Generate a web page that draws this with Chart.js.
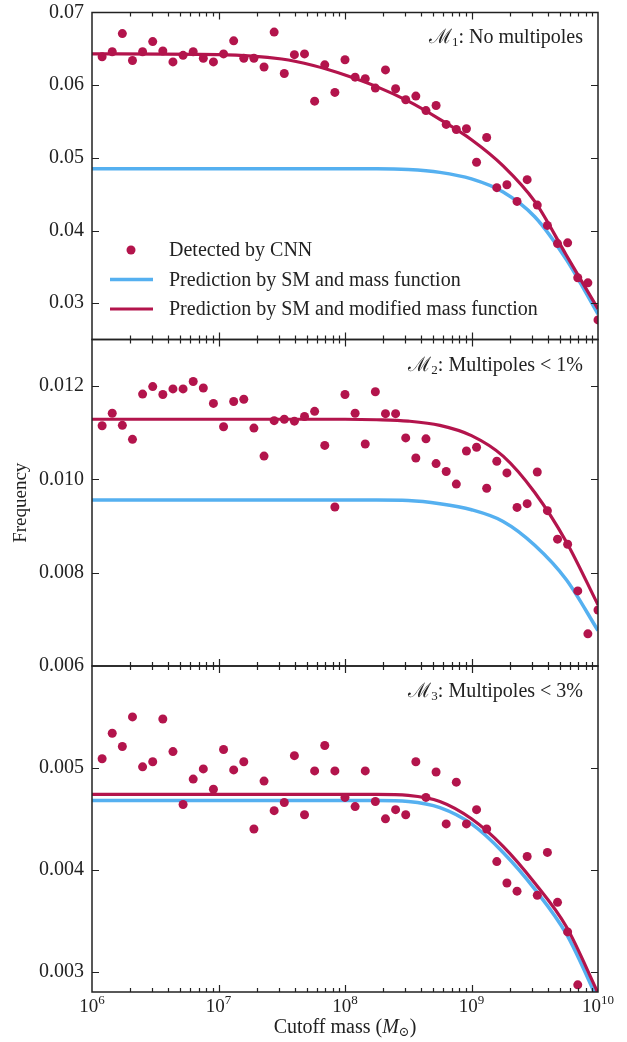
<!DOCTYPE html>
<html>
<head>
<meta charset="utf-8">
<script src="https://cdn.jsdelivr.net/npm/chart.js@4.4.0/dist/chart.umd.min.js"></script>
<style>
  html, body { margin: 0; padding: 0; background: #fff; }
  #wrap { position: relative; width: 627px; height: 1042px; overflow: hidden; }
  #wrap canvas { position: absolute; left: 0; }
</style>
</head>
<body>
<div id="wrap">
  <canvas id="p1" width="627" height="370" style="top:0px"></canvas>
  <canvas id="p2" width="627" height="386" style="top:310px"></canvas>
  <canvas id="p3" width="627" height="406" style="top:636px"></canvas>
</div>
<script>
// log10 of cutoff mass for the CNN points
const logMass = [
  6.08, 6.16, 6.24, 6.32, 6.40, 6.48, 6.56, 6.64, 6.72, 6.80,
  6.88, 6.96, 7.04, 7.12, 7.20, 7.28, 7.36, 7.44, 7.52, 7.60,
  7.68, 7.76, 7.84, 7.92, 8.00, 8.08, 8.16, 8.24, 8.32, 8.40,
  8.48, 8.56, 8.64, 8.72, 8.80, 8.88, 8.96, 9.04, 9.12, 9.20,
  9.28, 9.36, 9.44, 9.52, 9.60, 9.68, 9.76, 9.84, 9.92, 10.00
];
const detected1 = [
  0.0639, 0.0646, 0.0671, 0.0634, 0.0646, 0.0660, 0.0647, 0.0632, 0.0641, 0.0646,
  0.0637, 0.0632, 0.0643, 0.0661, 0.0637, 0.0637, 0.0625, 0.0673, 0.0616, 0.0642,
  0.0643, 0.0578, 0.0628, 0.0590, 0.0635, 0.0611, 0.0609, 0.0596, 0.0621, 0.0595,
  0.0580, 0.0585, 0.0565, 0.0572, 0.0546, 0.0539, 0.0540, 0.0494, 0.0528, 0.0459,
  0.0463, 0.0440, 0.0470, 0.0435, 0.0407, 0.0382, 0.0383, 0.0335, 0.0328, 0.0277
];
const detected2 = [
  0.01115, 0.01142, 0.01116, 0.01086, 0.01183, 0.01199, 0.01182, 0.01194, 0.01194, 0.01210,
  0.01196, 0.01163, 0.01113, 0.01167, 0.01172, 0.01110, 0.01050, 0.01126, 0.01129, 0.01125,
  0.01135, 0.01146, 0.01073, 0.00941, 0.01182, 0.01142, 0.01076, 0.01188, 0.01141, 0.01141,
  0.01089, 0.01046, 0.01087, 0.01034, 0.01017, 0.00990, 0.01061, 0.01069, 0.00981, 0.01039,
  0.01014, 0.00940, 0.00948, 0.01016, 0.00933, 0.00872, 0.00861, 0.00761, 0.00669, 0.00720
];
const detected3 = [
  0.00509, 0.00534, 0.00521, 0.00550, 0.00501, 0.00506, 0.00548, 0.00516, 0.00464, 0.00489,
  0.00499, 0.00479, 0.00518, 0.00498, 0.00506, 0.00440, 0.00487, 0.00458, 0.00466, 0.00512,
  0.00454, 0.00497, 0.00522, 0.00497, 0.00471, 0.00462, 0.00497, 0.00467, 0.00450, 0.00459,
  0.00454, 0.00506, 0.00471, 0.00496, 0.00445, 0.00486, 0.00445, 0.00459, 0.00440, 0.00408,
  0.00387, 0.00379, 0.00413, 0.00375, 0.00417, 0.00368, 0.00339, 0.00287, null, null
];

// prediction curves, sampled in log10 mass
const curveLogMass = [6, 7, 7.5, 7.75, 8, 8.25, 8.5, 8.75, 9, 9.25, 9.5, 9.75, 10];
const massFn1 =    [0.0485, 0.0485, 0.0485, 0.0485, 0.0485, 0.0485, 0.0484, 0.0480, 0.0471, 0.0453, 0.0419, 0.0360, 0.0285];
const modMassFn1 = [0.0643, 0.0642, 0.0636, 0.0627, 0.0614, 0.0598, 0.0578, 0.0553, 0.0525, 0.0489, 0.0440, 0.0366, 0.0292];
const massFn2 =    [0.00956, 0.00956, 0.00956, 0.00956, 0.00956, 0.00956, 0.00955, 0.00948, 0.00935, 0.00910, 0.00859, 0.00785, 0.00676];
const modMassFn2 = [0.01129, 0.01129, 0.01129, 0.01129, 0.01129, 0.01128, 0.01125, 0.01116, 0.01094, 0.01050, 0.00972, 0.00866, 0.00731];
const massFn3 =    [0.00468, 0.00468, 0.00468, 0.00468, 0.00468, 0.00468, 0.00467, 0.00461, 0.00445, 0.00417, 0.00381, 0.00337, 0.00272];
const modMassFn3 = [0.00474, 0.00474, 0.00474, 0.00474, 0.00474, 0.00474, 0.00473, 0.00467, 0.00450, 0.00423, 0.00387, 0.00344, 0.00279];

const xTicks = [1e6, 1e7, 1e8, 1e9, 1e10];
const xTickExponents = ['6', '7', '8', '9', '10'];
const yTicks1 = [0.03, 0.04, 0.05, 0.06, 0.07];
const yTicks2 = [0.006, 0.008, 0.010, 0.012];
const yTicks3 = [0.003, 0.004, 0.005];

const labels = ['Detected by CNN', 'Prediction by SM and mass function', 'Prediction by SM and modified mass function'];
const tags = [['1', ': No multipoles'], ['2', ': Multipoles < 1%'], ['3', ': Multipoles < 3%']];

const RED = '#b3144c', BLUE = '#55b0f0', INK = '#222';
const SERIF = '"Liberation Serif", "Times New Roman", "DejaVu Serif", serif';

const pts = (xs, ys) => xs.map((l, i) => ({ x: Math.pow(10, l), y: ys[i] }));

function drawFrame(chart) {
  const { ctx, chartArea: a, scales: { x, y } } = chart;
  ctx.save();
  ctx.strokeStyle = INK;
  ctx.lineWidth = 1.2;
  ctx.beginPath();
  for (let n = 6; n < 10; n++) {
    for (let m = 1; m < 10; m++) {
      if (n === 6 && m === 1) continue;
      const px = Math.round(x.getPixelForValue(m * Math.pow(10, n))) + 0.5;
      const len = m === 1 ? 7 : 4;
      ctx.moveTo(px, a.bottom); ctx.lineTo(px, a.bottom - len);
      ctx.moveTo(px, a.top); ctx.lineTo(px, a.top + len);
    }
  }
  y.ticks.forEach(t => {
    const py = Math.round(y.getPixelForValue(t.value)) + 0.5;
    if (py < a.top + 2 || py > a.bottom - 2) return;
    ctx.moveTo(a.left, py); ctx.lineTo(a.left + 7, py);
    ctx.moveTo(a.right, py); ctx.lineTo(a.right - 7, py);
  });
  ctx.stroke();
  ctx.lineWidth = 1.5;
  ctx.strokeRect(a.left, a.top, a.right - a.left, a.bottom - a.top);
  ctx.restore();
}

function drawTag(ctx, right, cy, tag) {
  ctx.save();
  ctx.fillStyle = INK;
  ctx.textBaseline = 'middle';
  const big = '20px ' + SERIF, small = '13px ' + SERIF;
  ctx.font = big; const wM = ctx.measureText('ℳ').width; const wRest = ctx.measureText(tag[1]).width;
  ctx.font = small; const wSub = ctx.measureText(tag[0]).width;
  let x0 = right - wM - wSub - wRest;
  ctx.font = big; ctx.fillText('ℳ', x0, cy);
  ctx.font = small; ctx.fillText(tag[0], x0 + wM, cy + 5);
  ctx.font = big; ctx.fillText(tag[1], x0 + wM + wSub, cy);
  ctx.restore();
}

function drawLegend(chart) {
  const { ctx } = chart;
  const ds = chart.data.datasets;
  const rows = [250, 279.5, 309];
  ctx.save();
  ctx.font = '20px ' + SERIF;
  ctx.textBaseline = 'middle';
  ds.forEach((d, i) => {
    const cy = rows[i];
    if (d.showLine === false) {
      ctx.fillStyle = d.pointBackgroundColor;
      ctx.beginPath(); ctx.arc(131, cy, 4.5, 0, Math.PI * 2); ctx.fill();
    } else {
      ctx.strokeStyle = d.borderColor; ctx.lineWidth = d.borderWidth;
      ctx.beginPath(); ctx.moveTo(110, cy); ctx.lineTo(153, cy); ctx.stroke();
    }
    ctx.fillStyle = INK;
    ctx.fillText(d.label, 169, cy + 1);
  });
  ctx.restore();
}

function drawXLabels(chart) {
  const { ctx, scales: { x }, chartArea: a } = chart;
  const base = '19px ' + SERIF, sup = '13px ' + SERIF;
  ctx.save();
  ctx.fillStyle = INK;
  ctx.textBaseline = 'alphabetic';
  xTicks.forEach((v, i) => {
    ctx.font = base; const wb = ctx.measureText('10').width;
    ctx.font = sup; const we = ctx.measureText(xTickExponents[i]).width;
    const x0 = x.getPixelForValue(v) - (wb + we) / 2;
    ctx.font = base; ctx.fillText('10', x0, a.bottom + 20);
    ctx.font = sup; ctx.fillText(xTickExponents[i], x0 + wb, a.bottom + 12);
  });
  // axis title
  const cy = a.bottom + 36;
  const big = '20px ' + SERIF, ital = 'italic 20px ' + SERIF, small = '13px "DejaVu Serif", serif';
  ctx.textBaseline = 'middle';
  const parts = [['Cutoff mass (', big, 0], ['M', ital, 0], ['⊙', small, 5], [')', big, 0]];
  const widths = parts.map(p => { ctx.font = p[1]; return ctx.measureText(p[0]).width; });
  let x1 = (a.left + a.right) / 2 - widths.reduce((s, w) => s + w, 0) / 2;
  parts.forEach((p, i) => { ctx.font = p[1]; ctx.fillText(p[0], x1, cy + p[2]); x1 += widths[i]; });
  ctx.restore();
}

function makePanel(id, p) {
  const decoPlugin = {
    id: 'deco' + id,
    afterDraw(chart) {
      drawFrame(chart);
      drawTag(chart.ctx, 583, chart.chartArea.top + p.tagDy, p.tag);
      if (p.legend) drawLegend(chart);
      if (p.showX) drawXLabels(chart);
    }
  };
  return new Chart(document.getElementById(id).getContext('2d'), {
    type: 'line',
    data: {
      datasets: [
        { label: labels[0], data: pts(logMass, p.detected), showLine: false, order: 0,
          pointRadius: 4.5, pointBackgroundColor: RED, pointBorderWidth: 0, borderColor: RED },
        { label: labels[1], data: pts(curveLogMass, p.massFn), order: 2, pointRadius: 0,
          borderColor: BLUE, borderWidth: 3.5, cubicInterpolationMode: 'monotone' },
        { label: labels[2], data: pts(curveLogMass, p.modMassFn), order: 1, pointRadius: 0,
          borderColor: RED, borderWidth: 3.2, cubicInterpolationMode: 'monotone' }
      ]
    },
    options: {
      responsive: false, animation: false, devicePixelRatio: 1,
      layout: { padding: { left: 0, right: 29, top: p.padTop, bottom: p.padBottom } },
      plugins: { legend: { display: false }, tooltip: { enabled: false } },
      scales: {
        x: {
          type: 'logarithmic', min: 1e6, max: 1e10, display: p.showX,
          grid: { display: false, drawTicks: false }, border: { display: false },
          afterBuildTicks: s => { s.ticks = xTicks.map(v => ({ value: v })); },
          afterFit: s => { s.height = p.showX ? 50 : 0; s.paddingLeft = 0; s.paddingRight = 0; },
          ticks: { display: false }
        },
        y: {
          min: p.yMin, max: p.yMax,
          grid: { display: false, drawTicks: false }, border: { display: false },
          afterBuildTicks: s => { s.ticks = p.yTicks.map(v => ({ value: v })); },
          afterFit: s => { s.width = 92; s.paddingTop = 0; s.paddingBottom = 0; },
          ticks: { padding: 8, color: INK, font: { family: SERIF, size: 20 },
                   callback: v => v.toFixed(p.dec) },
          title: { display: !!p.yTitle, text: p.yTitle || '', color: INK,
                   font: { family: SERIF, size: 19 }, padding: { top: 10, bottom: 0 } }
        }
      }
    },
    plugins: [decoPlugin]
  });
}

makePanel('p1', { detected: detected1, massFn: massFn1, modMassFn: modMassFn1, yMin: 0.025, yMax: 0.07,
  yTicks: yTicks1, dec: 2, padTop: 12.5, padBottom: 30.5, showX: false, legend: true, tag: tags[0], tagDy: 25 });
makePanel('p2', { detected: detected2, massFn: massFn2, modMassFn: modMassFn2, yMin: 0.006, yMax: 0.013,
  yTicks: yTicks2, dec: 3, padTop: 29.5, padBottom: 30, showX: false, yTitle: 'Frequency', tag: tags[1], tagDy: 26 });
makePanel('p3', { detected: detected3, massFn: massFn3, modMassFn: modMassFn3, yMin: 0.0028, yMax: 0.006,
  yTicks: yTicks3, dec: 3, padTop: 30, padBottom: 0, showX: true, tag: tags[2], tagDy: 26 });
</script>
</body>
</html>
